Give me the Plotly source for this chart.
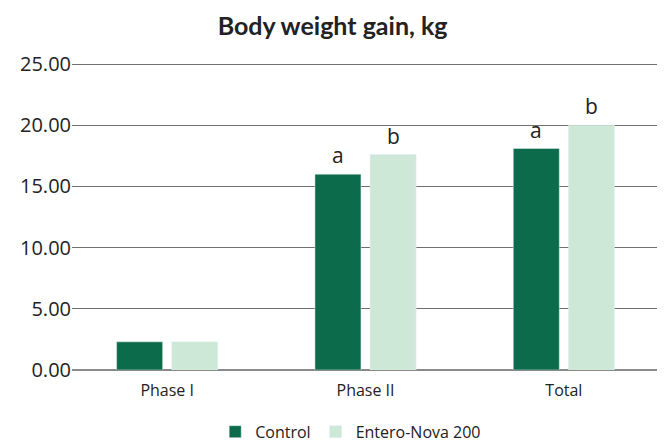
import plotly.graph_objects as go

categories = ["Phase I", "Phase II", "Total"]
control = [2.3, 16.0, 18.1]
entero = [2.3, 17.6, 20.0]
letters_control = ["", "a", "a"]
letters_entero = ["", "b", "b"]
y_ticks = [0, 5, 10, 15, 20, 25]

C_DARK = "#0b6b4a"
C_LIGHT = "#cde8d7"
FONT = "'Open Sans', Lato, sans-serif"
TFONT = "Lato, 'Open Sans', sans-serif"

xpos = list(range(len(categories)))
W = 0.232
OFF_C = -0.255
OFF_E = 0.023

fig = go.Figure()
fig.add_trace(go.Bar(x=xpos, y=control, name="Control", marker_color=C_DARK,
                     width=W, offset=OFF_C, hoverinfo="y"))
fig.add_trace(go.Bar(x=xpos, y=entero, name="Entero-Nova 200", marker_color=C_LIGHT,
                     width=W, offset=OFF_E, hoverinfo="y"))

for i in xpos:
    for val, lab, off in ((control[i], letters_control[i], OFF_C), (entero[i], letters_entero[i], OFF_E)):
        if lab:
            fig.add_annotation(x=i + off + W / 2, y=val, text=lab, showarrow=False,
                               yanchor="bottom", yshift=3,
                               font=dict(size=21, color="#222222", family=FONT))

fig.update_layout(
    width=657, height=436,
    margin=dict(l=64, r=0, t=53, b=74, autoexpand=False),
    paper_bgcolor="white", plot_bgcolor="white",
    title=dict(text="<b>Body weight gain, kg</b>", x=0.494, xanchor="center",
               y=0.958, yanchor="middle",
               font=dict(size=25, color="#222222", family=TFONT)),
    showlegend=True,
    legend=dict(orientation="h", x=0.47, xanchor="center", y=-0.2, yanchor="middle",
                font=dict(size=16, color="#222222", family=FONT),
                traceorder="normal"),
)
fig.update_xaxes(range=[-0.48, 2.51], tickvals=xpos, ticktext=categories,
                 showgrid=False, zeroline=False, showline=False,
                 tickfont=dict(size=16, color="#222222", family=FONT),
                 ticks="", ticklabelstandoff=9, fixedrange=True)
fig.update_yaxes(range=[0, 25.25], tickvals=y_ticks,
                 ticktext=[f"{v:.2f}" for v in y_ticks],
                 showgrid=True, gridcolor="#6f6f6f", gridwidth=1,
                 zeroline=True, zerolinecolor="#8a8a8a", zerolinewidth=2,
                 showline=False, ticks="", ticklabelstandoff=0,
                 tickfont=dict(size=20, color="#222222", family=FONT),
                 fixedrange=True)

fig.write_html("out.html")
